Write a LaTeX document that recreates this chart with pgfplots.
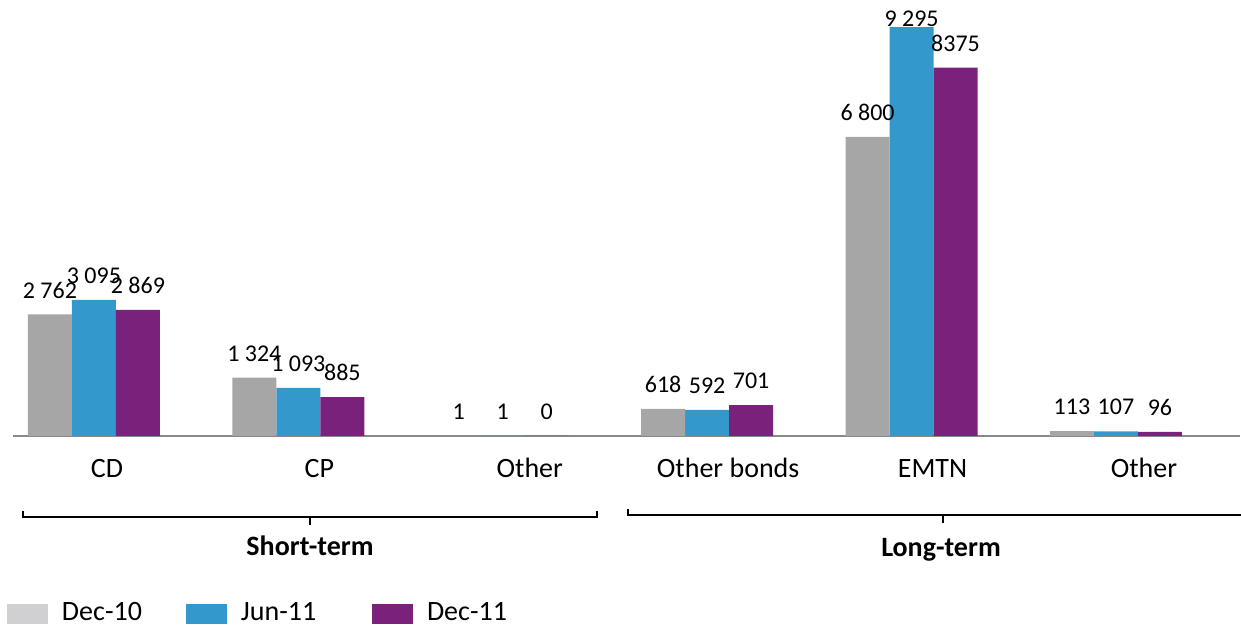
\documentclass[border=0pt]{standalone}
\usepackage{pgfplots}
\pgfplotsset{compat=1.18}
\usepackage{pgfplotstable}
\usepackage{fontspec}
\setmainfont{Carlito}

\definecolor{bargray}{HTML}{A6A6A6}
\definecolor{keygray}{HTML}{D0D0D2}
\definecolor{barblue}{HTML}{3399CC}
\definecolor{barpurple}{HTML}{7A217C}
\definecolor{axisgray}{HTML}{898989}

% pos = category index, val = amount, lbl = printed value, dy = label lift (pt)
\pgfplotstableread[col sep=comma]{
pos,val,lbl,dy
0,2762,2 762,8.2
1,1324,1 324,8.2
2,1,1,8.2
3,618,618,8.2
4,6800,6 800,8.2
5,113,113,8.2
}\tabDecTen

\pgfplotstableread[col sep=comma]{
pos,val,lbl,dy
0,3095,3 095,8.2
1,1093,1 093,8.2
2,1,1,8.2
3,592,592,8.2
4,9295,9 295,0.2
5,107,107,8.2
}\tabJunEleven

\pgfplotstableread[col sep=comma]{
pos,val,lbl,dy
0,2869,2 869,8.2
1,885,885,8.2
2,0,0,8.2
3,701,701,8.2
4,8375,8375,8.2
5,96,96,8.2
}\tabDecEleven

\newcommand{\catfont}{\fontsize{14}{16.8}\selectfont}
\newcommand{\valfont}{\fontsize{12}{14.4}\selectfont}
% legend text: fixed width, no depth below the baseline
\newcommand{\keytext}[2]{\kern7pt\raisebox{0pt}[\height][0pt]{\makebox[#1][l]{#2}}}

\begin{document}
\begin{tikzpicture}[x=1pt,y=1pt]
\useasboundingbox (0,0) rectangle (620.5,312.5);
\begin{axis}[
  at={(6.5pt,94.5pt)}, anchor=south west,
  scale only axis,
  width=613.5pt, height=217.8pt,
  xmin=-0.396, xmax=5.607,
  ymin=0, ymax=9900,
  clip=false,
  axis x line=bottom,
  axis y line=none,
  axis line style={draw=axisgray, line width=1pt, -},
  xtick={0,1,2,3,4,5},
  xticklabels={\kern-8pt CD,CP,Other\kern-6pt,Other bonds,EMTN,Other\kern-7pt},
  major tick length=0pt,
  xticklabel style={anchor=base, yshift=-21pt, xshift=10.5pt, inner sep=0pt, font=\catfont},
  ybar, bar width=22pt,
  point meta=explicit symbolic,
  nodes near coords={\pgfplotspointmeta},
  visualization depends on={\thisrow{dy} \as \labdy},
  every node near coord/.append style={anchor=base, inner sep=0pt, yshift=\labdy pt, font=\valfont, text=black},
  legend columns=3,
  legend image code/.code={\fill[#1] (0pt,-5.25pt) rectangle (20.5pt,4.75pt);},
  legend style={draw=none, fill=none, inner sep=0pt, outer sep=0pt,
    at={(axis description cs:0,0)}, anchor=south west, xshift=-3pt, yshift=-94pt,
    nodes={inner sep=0pt, outer sep=0pt, font=\catfont}},
]
\addlegendimage{draw=none, fill=keygray}
\addlegendentry{\keytext{62pt}{Dec-10}}
\addlegendimage{draw=none, fill=barblue}
\addlegendentry{\keytext{65.5pt}{Jun-11}}
\addlegendimage{draw=none, fill=barpurple}
\addlegendentry{\keytext{63.5pt}{Dec-11}}

\addplot[forget plot, fill=barblue, draw=none, bar shift=0pt]
  table[x=pos, y=val, meta=lbl] {\tabJunEleven};
\addplot[forget plot, fill=bargray, draw=none, bar shift=-22pt]
  table[x=pos, y=val, meta=lbl] {\tabDecTen};
\addplot[forget plot, fill=barpurple, draw=none, bar shift=22pt]
  table[x=pos, y=val, meta=lbl] {\tabDecEleven};
\end{axis}

% group brackets below the categories
\draw[line width=1.3pt] (11.5,57) -- (11.5,54) -- (298.5,54) -- (298.5,57);
\draw[line width=1.3pt] (155,54) -- (155,50);
\draw[line width=1.3pt] (314,58) -- (314,55) -- (622,55);
\draw[line width=1.3pt] (471.5,55) -- (471.5,51);
\node[anchor=base, inner sep=0pt, font=\catfont\bfseries] at (155,34.5) {Short-term};
\node[anchor=base, inner sep=0pt, font=\catfont\bfseries] at (470.5,34) {Long-term};
\end{tikzpicture}
\end{document}
